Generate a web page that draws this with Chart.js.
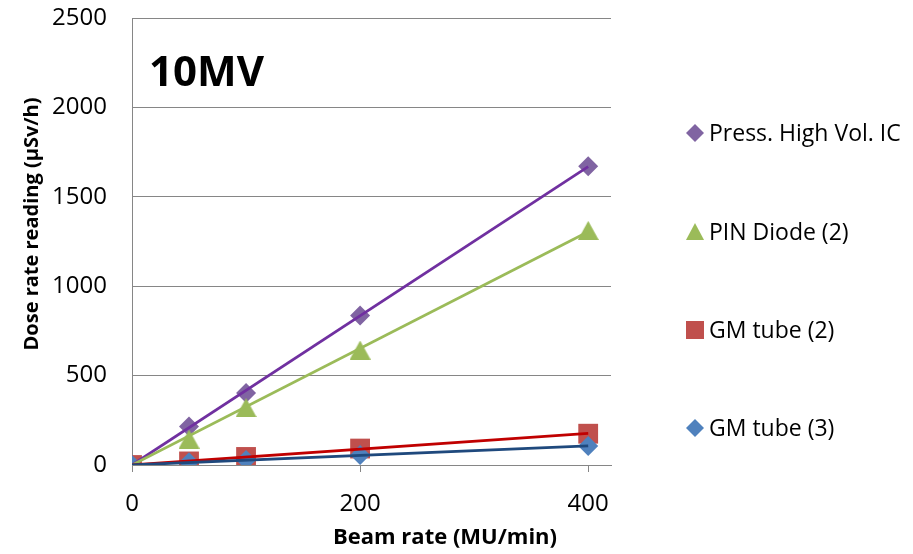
<!DOCTYPE html>
<html>
<head>
<meta charset="utf-8">
<script src="https://cdn.jsdelivr.net/npm/chart.js@4/dist/chart.umd.min.js"></script>
<style>
  html, body { margin: 0; padding: 0; background: #fff; }
  #wrap { width: 913px; height: 554px; }
</style>
</head>
<body>
<div id="wrap"><canvas id="c" width="913" height="554"></canvas></div>
<script>
// Beam rate (MU/min) and measured dose-rate readings (µSv/h) per detector
const beamRates = [0, 50, 100, 200, 400];
const xTicks = [0, 200, 400];
const seriesNames = ['Press. High Vol. IC', 'PIN Diode (2)', 'GM tube (2)', 'GM tube (3)'];
const pressHighVolIC = [0, 215, 402, 836, 1671];
const pinDiode2 = [0, 145, 321, 643, 1312];
const gmTube2 = [0, 20, 45, 92, 175];
const gmTube3 = [0, 15, 28, 56, 106];
const chartTitle = '10MV';
const xTitle = 'Beam rate (MU/min)';
const yTitle = 'Dose rate reading (µSv/h)';

const FONT = "'Open Sans', sans-serif";
Chart.defaults.font.family = FONT;
Chart.defaults.color = '#000';

// Triangle marker drawn centred on its bounding box
function triangleMarker(color, w, h) {
  const c = document.createElement('canvas');
  c.width = w; c.height = h;
  const g = c.getContext('2d');
  g.fillStyle = color;
  g.beginPath();
  g.moveTo(w / 2, 0);
  g.lineTo(w, h);
  g.lineTo(0, h);
  g.closePath();
  g.fill();
  return c;
}

const styles = [
  { marker: '#8064A2', line: '#7030A0', pointStyle: 'rectRot', radius: 10 },
  { marker: '#9BBB59', line: '#9BBB59', pointStyle: triangleMarker('#9BBB59', 21, 19), radius: 10 },
  { marker: '#C0504D', line: '#C00000', pointStyle: 'rect', radius: 14 },
  { marker: '#4F81BD', line: '#1F497D', pointStyle: 'rectRot', radius: 10 }
];
const seriesValues = [pressHighVolIC, pinDiode2, gmTube2, gmTube3];

// Linear trendline through the origin (least squares)
function originFit(xs, ys) {
  let sxy = 0, sxx = 0;
  xs.forEach((x, i) => { sxy += x * ys[i]; sxx += x * x; });
  const k = sxy / sxx;
  const lo = Math.min(...xs), hi = Math.max(...xs);
  return [{ x: lo, y: k * lo }, { x: hi, y: k * hi }];
}

const n = seriesNames.length;
const markerSets = seriesNames.map((name, i) => ({
  label: name,
  data: beamRates.map((x, j) => ({ x, y: seriesValues[i][j] })),
  showLine: false,
  pointStyle: styles[i].pointStyle,
  pointRadius: styles[i].radius,
  pointBackgroundColor: styles[i].marker,
  pointBorderColor: styles[i].marker,
  pointBorderWidth: 0,
  order: 2 * n - i
}));
const trendSets = seriesNames.map((name, i) => ({
  label: name + ' trend',
  data: originFit(beamRates, seriesValues[i]),
  showLine: true,
  borderColor: styles[i].line,
  borderWidth: 2.75,
  pointRadius: 0,
  fill: false,
  order: n - i
}));

const extras = {
  id: 'extras',
  afterDraw(chart) {
    const ctx = chart.ctx;
    ctx.save();
    ctx.fillStyle = '#000';

    // panel label
    ctx.font = `bold 42px ${FONT}`;
    ctx.textAlign = 'left';
    ctx.textBaseline = 'middle';
    ctx.fillText(chartTitle, 149, 74);

    // axis titles
    ctx.textAlign = 'center';
    ctx.font = `bold 22px ${FONT}`;
    ctx.fillText(xTitle, 445, 538);
    ctx.font = `bold 20px ${FONT}`;
    ctx.save();
    ctx.translate(32, 224);
    ctx.rotate(-Math.PI / 2);
    ctx.fillText(yTitle, 0, 0);
    ctx.restore();

    // legend
    const rows = [133, 232, 330, 428];
    ctx.font = `23px ${FONT}`;
    ctx.textAlign = 'left';
    markerSets.forEach((ds, i) => {
      const y = rows[i];
      const cx = 695;
      ctx.fillStyle = styles[i].marker;
      const st = styles[i].pointStyle;
      ctx.beginPath();
      if (st === 'rectRot') {
        const r = 9;
        ctx.moveTo(cx, y - r); ctx.lineTo(cx + r, y); ctx.lineTo(cx, y + r); ctx.lineTo(cx - r, y);
        ctx.closePath(); ctx.fill();
      } else if (st === 'rect') {
        ctx.fillRect(cx - 9, y - 9, 18, 18);
      } else {
        ctx.moveTo(cx, y - 9); ctx.lineTo(cx + 9, y + 8); ctx.lineTo(cx - 9, y + 8);
        ctx.closePath(); ctx.fill();
      }
      ctx.fillStyle = '#000';
      ctx.fillText(ds.label, 709, y + 1);
    });
    ctx.restore();
  }
};

const plainNumber = v => String(v);

new Chart(document.getElementById('c'), {
  type: 'scatter',
  data: { datasets: [...trendSets, ...markerSets] },
  options: {
    responsive: false,
    animation: false,
    devicePixelRatio: 1,
    layout: { padding: { left: 0, right: 302, top: 18, bottom: 0 } },
    plugins: { legend: { display: false }, tooltip: { enabled: false } },
    scales: {
      x: {
        type: 'linear',
        min: 0,
        max: 420,
        afterBuildTicks: s => { s.ticks = xTicks.map(v => ({ value: v })); },
        afterFit: s => { s.height = 89; s.paddingLeft = 0; s.paddingRight = 0; },
        grid: { drawOnChartArea: false, drawTicks: true, tickLength: 7, color: '#868686', lineWidth: 1 },
        border: { color: '#868686', width: 1 },
        ticks: { padding: 18, font: { size: 24 }, color: '#000', maxRotation: 0, callback: plainNumber }
      },
      y: {
        min: 0,
        max: 2500,
        afterFit: s => { s.width = 132; s.paddingTop = 0; s.paddingBottom = 0; },
        ticks: { stepSize: 500, padding: 25, font: { size: 24 }, color: '#000', callback: plainNumber },
        grid: { drawTicks: false, color: '#868686', lineWidth: 1 },
        border: { color: '#868686', width: 1 }
      }
    }
  },
  plugins: [extras]
});
</script>
</body>
</html>
